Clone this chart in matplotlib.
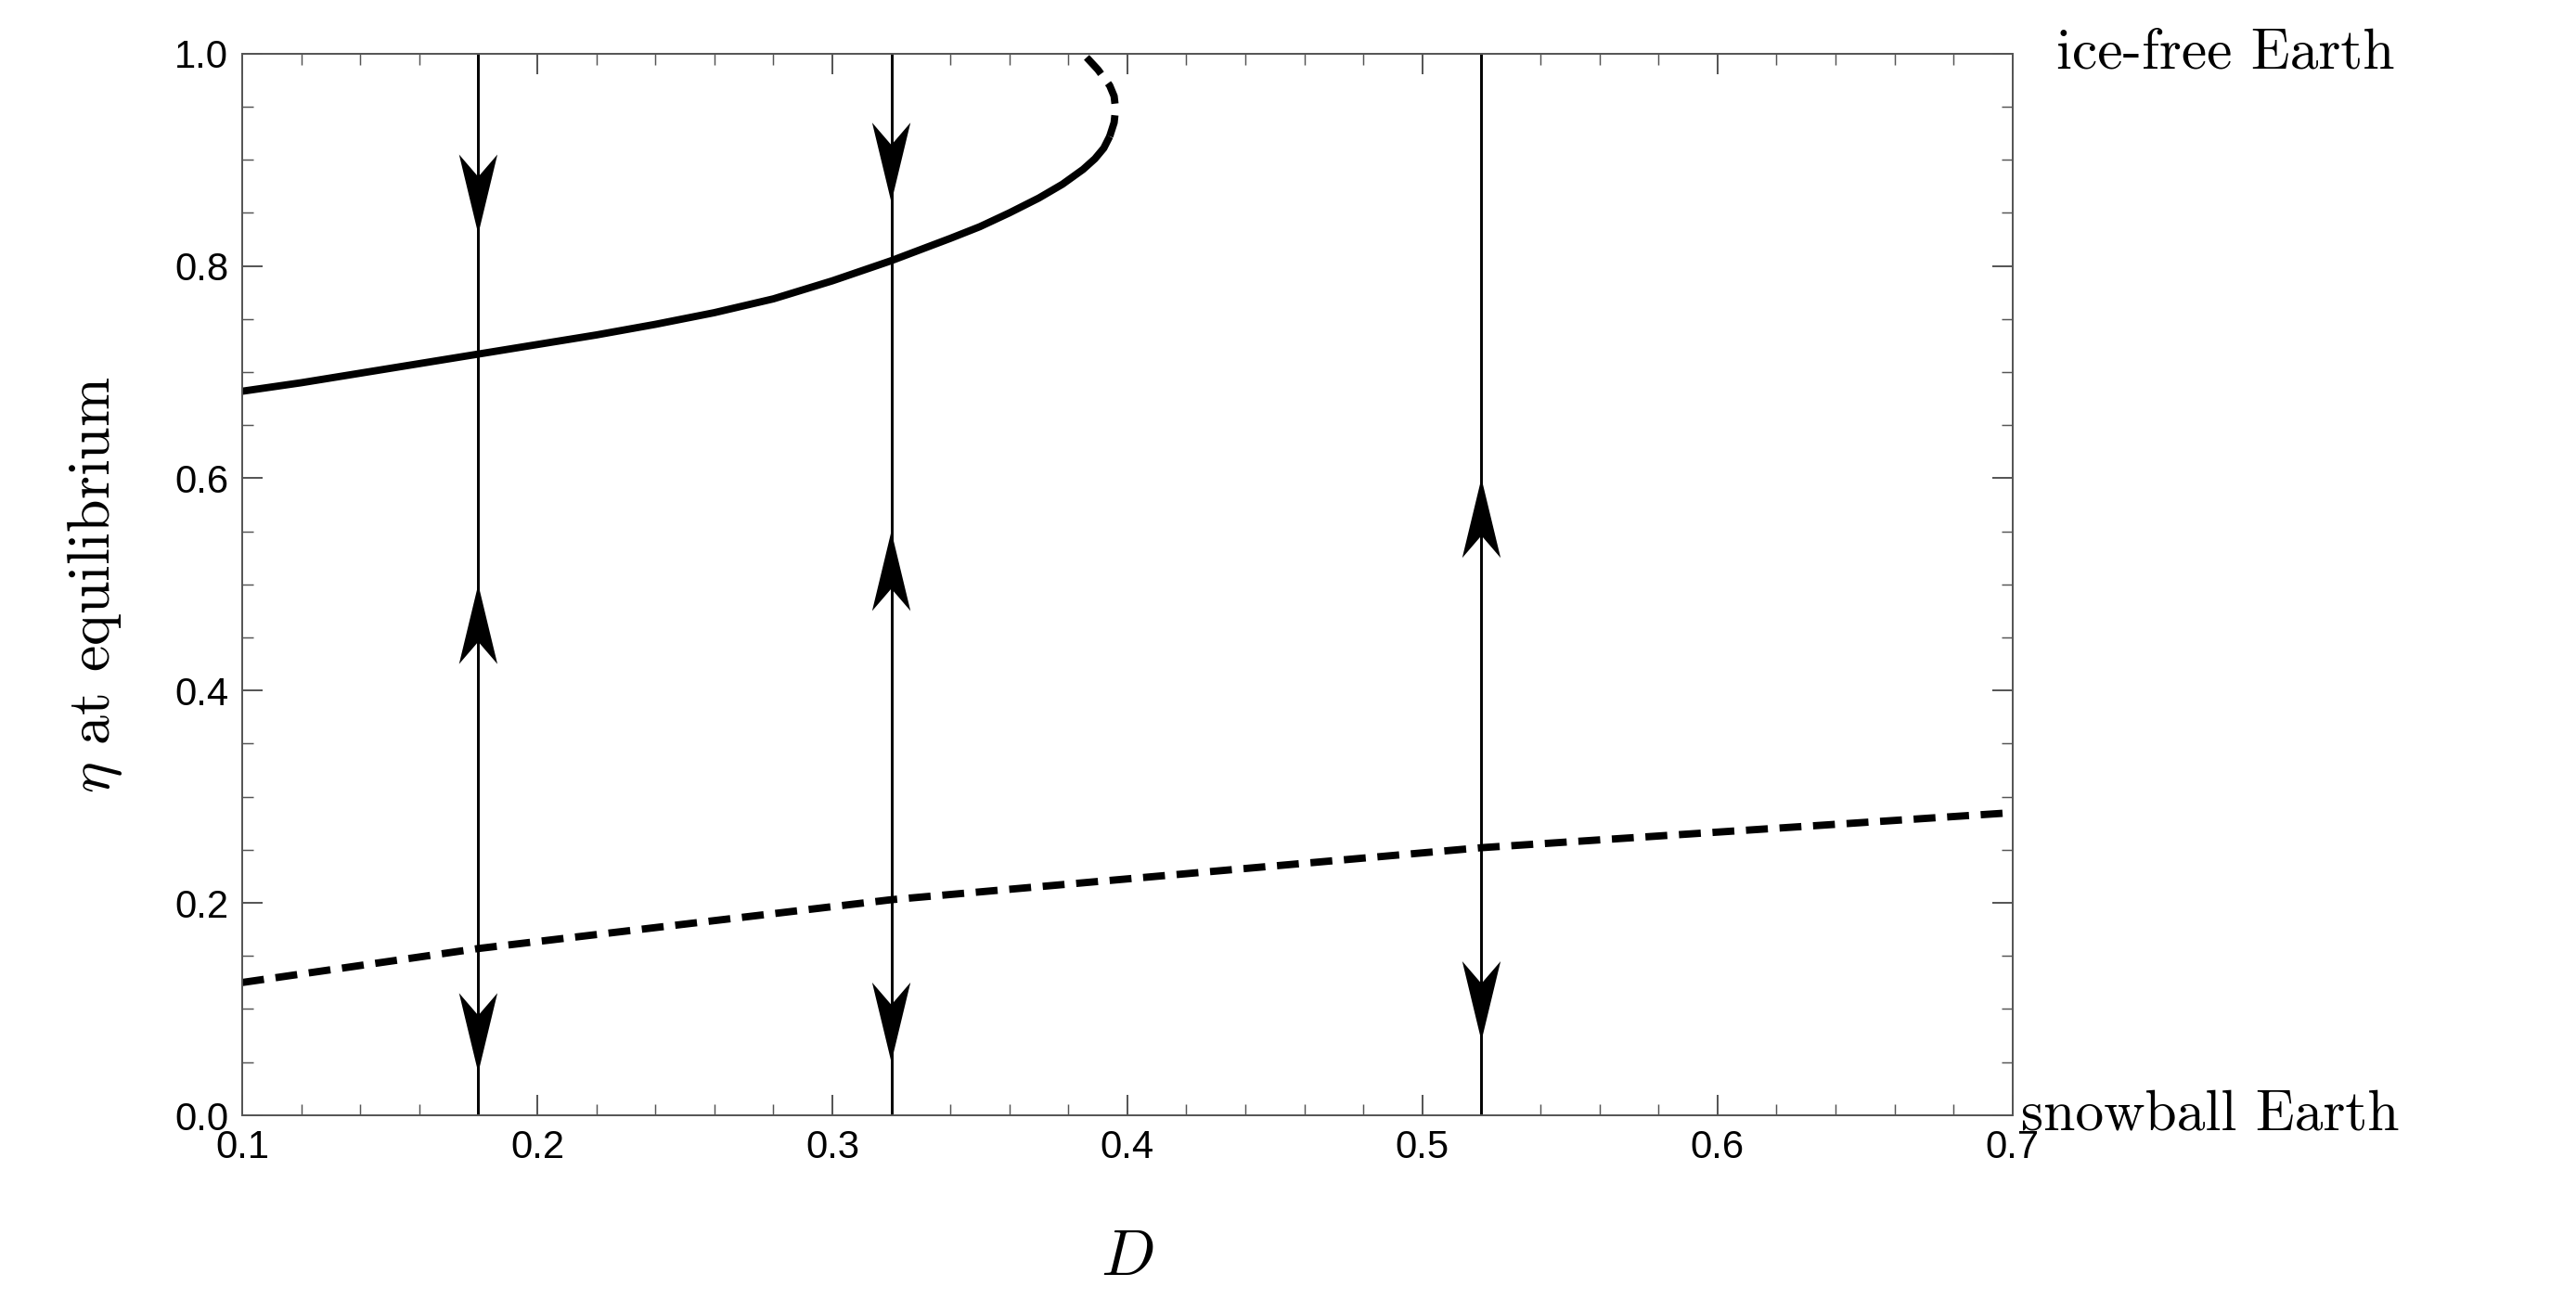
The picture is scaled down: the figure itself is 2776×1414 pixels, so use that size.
import numpy as np
import matplotlib.pyplot as plt
from matplotlib.ticker import MultipleLocator

# upper stable branch
d_stable = [0.10, 0.12, 0.14, 0.16, 0.18, 0.20, 0.22, 0.24, 0.26, 0.28, 0.30, 0.32,
            0.34, 0.35, 0.36, 0.37, 0.378, 0.385, 0.389, 0.392, 0.394]
eta_stable = [0.682, 0.690, 0.699, 0.708, 0.717, 0.726, 0.735, 0.745, 0.756, 0.769,
              0.786, 0.805, 0.826, 0.837, 0.850, 0.864, 0.877, 0.891, 0.901, 0.911, 0.922]
# unstable part near the fold
d_fold = [0.394, 0.3955, 0.396, 0.3955, 0.394, 0.390, 0.385]
eta_fold = [0.922, 0.935, 0.948, 0.960, 0.970, 0.985, 1.000]
# lower unstable line
d_low = [0.10, 0.18, 0.32, 0.52, 0.70]
eta_low = [0.125, 0.157, 0.203, 0.252, 0.285]

# flow lines and arrow tips
flow_d = [0.18, 0.32, 0.52]
arrows_down = [(0.18, 0.83), (0.18, 0.04), (0.32, 0.86), (0.32, 0.05), (0.52, 0.07)]
arrows_up = [(0.18, 0.50), (0.32, 0.55), (0.52, 0.60)]

plt.rcParams["mathtext.fontset"] = "cm"

fig = plt.figure(figsize=(15.68, 7.985), dpi=177.1)
ax = fig.add_axes([0.094, 0.150, 0.687, 0.809])

ax.plot(d_stable, eta_stable, color="black", lw=3.2, solid_capstyle="butt")
ax.plot(d_fold, eta_fold, color="black", lw=3.2, ls=(0, (3, 1.6)))
ax.plot(d_low, eta_low, color="black", lw=3.2, ls=(0, (3, 1.6)))

for x in flow_d:
    ax.axvline(x, color="black", lw=1.2)

# notched arrowhead pointing down, tip at origin
hx = np.array([0, 0.25, 0, -0.25, 0])
hy = np.array([0, 1.0, 0.72, 1.0, 0])
wx, hl = 0.026, 0.075
for x, tip in arrows_down:
    ax.fill(x + hx * wx, tip + hy * hl, color="black", zorder=5, lw=0)
for x, tip in arrows_up:
    ax.fill(x + hx * wx, tip - hy * hl, color="black", zorder=5, lw=0)

ax.set_xlim(0.1, 0.7)
ax.set_ylim(0.0, 1.0)
xt = [0.1, 0.2, 0.3, 0.4, 0.5, 0.6, 0.7]
yt = [0.0, 0.2, 0.4, 0.6, 0.8, 1.0]
ax.set_xticks(xt)
ax.set_xticklabels([f"{v:.1f}" for v in xt])
ax.set_yticks(yt)
ax.set_yticklabels([f"{v:.1f}" for v in yt])
ax.xaxis.set_minor_locator(MultipleLocator(0.02))
ax.yaxis.set_minor_locator(MultipleLocator(0.05))
ax.tick_params(which="both", direction="in", top=True, right=True, color="#555555")
ax.tick_params(which="major", length=9, width=0.8, labelsize=17, pad=6)
ax.tick_params(which="minor", length=5, width=0.6)
for lab in ax.get_xticklabels() + ax.get_yticklabels():
    lab.set_family("Liberation Sans")
for s in ax.spines.values():
    s.set_color("#555555")
    s.set_linewidth(0.8)

ax.set_xlabel(r"$D$", fontsize=28, labelpad=26)
ax.set_ylabel(r"$\eta$ at equilibrium", fontsize=26, family="cmr10", labelpad=22)

ax.text(1.025, 1.0, "ice-free Earth", transform=ax.transAxes, family="cmr10",
        fontsize=25, va="center", ha="left")
ax.text(1.005, 0.0, "snowball Earth", transform=ax.transAxes, family="cmr10",
        fontsize=25, va="center", ha="left")

fig.savefig("out.png", dpi=177.1, facecolor="white")
